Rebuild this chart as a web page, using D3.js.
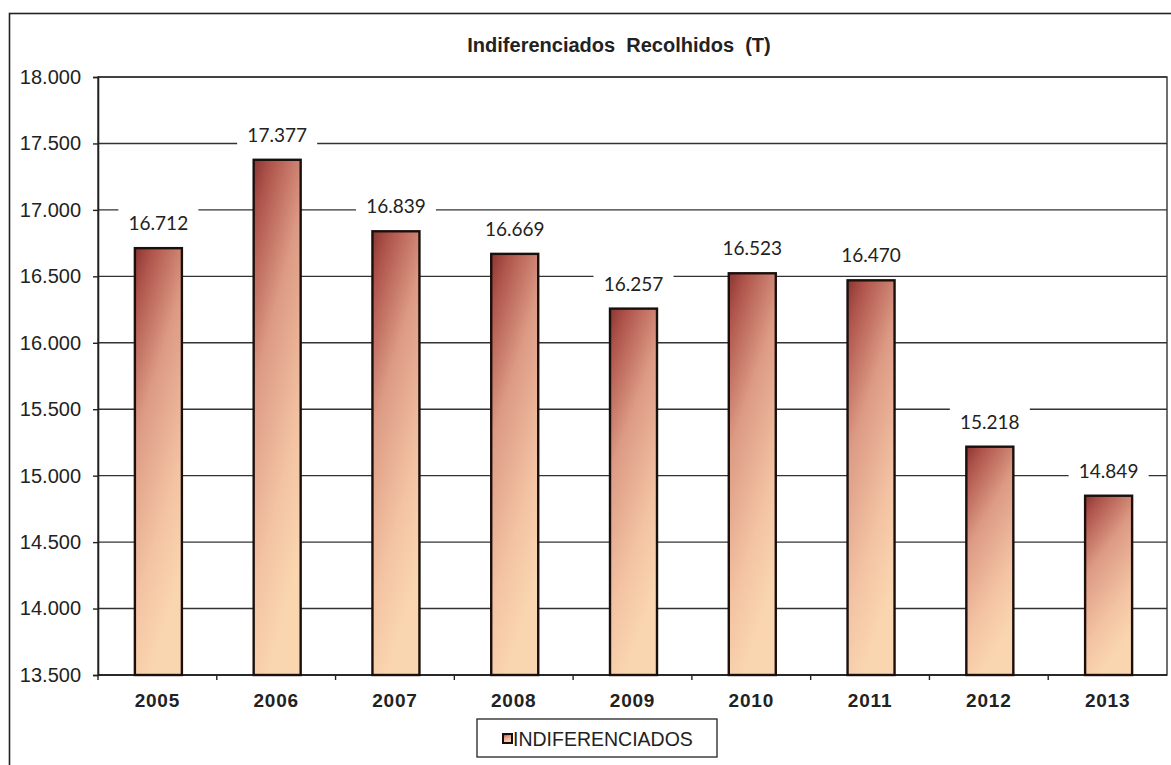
<!DOCTYPE html>
<html>
<head>
<meta charset="utf-8">
<script src="https://cdn.jsdelivr.net/npm/d3@7"></script>
<style>
  html, body { margin: 0; padding: 0; background: #fff; }
  svg { display: block; }
</style>
</head>
<body>
<svg id="chart" width="1171" height="765"></svg>
<script>
const categories = ["2005", "2006", "2007", "2008", "2009", "2010", "2011", "2012", "2013"];
const values = [16712, 17377, 16839, 16669, 16257, 16523, 16470, 15218, 14849];
const yTicks = [13500, 14000, 14500, 15000, 15500, 16000, 16500, 17000, 17500, 18000];
const seriesName = "INDIFERENCIADOS";
const title = "Indiferenciados  Recolhidos  (T)";

const svg = d3.select("#chart");
const fmt = v => d3.format(",")(v).replace(/,/g, ".");
const fmt3 = v => d3.format(",.0f")(v).replace(/,/g, ".");

const plot = { left: 98, right: 1167, top: 77, bottom: 675 };

const defs = svg.append("defs");
const grad = defs.append("linearGradient").attr("id", "barGrad")
  .attr("x1", 0).attr("y1", 0).attr("x2", 0.35).attr("y2", 1);
grad.append("stop").attr("offset", "0%").attr("stop-color", "#8a3632");
grad.append("stop").attr("offset", "12%").attr("stop-color", "#b0554c");
grad.append("stop").attr("offset", "40%").attr("stop-color", "#dc9a84");
grad.append("stop").attr("offset", "75%").attr("stop-color", "#f3c3a3");
grad.append("stop").attr("offset", "100%").attr("stop-color", "#fad6b0");

// outer chart border
svg.append("rect").attr("x", 9.5).attr("y", 13.5).attr("width", 1200).attr("height", 800)
  .attr("fill", "#fff").attr("stroke", "#222").attr("stroke-width", 1.6);

const xb = d3.scaleBand().domain(categories).range([plot.left, plot.right]);
const y = d3.scaleLinear().domain([13500, 18000]).range([plot.bottom, plot.top]);

// plot area border
svg.append("rect").attr("x", plot.left).attr("y", plot.top)
  .attr("width", plot.right - plot.left).attr("height", plot.bottom - plot.top)
  .attr("fill", "none").attr("stroke", "#333").attr("stroke-width", 1.4);

// gridlines
svg.append("g").selectAll("line").data(yTicks).join("line")
  .attr("x1", plot.left).attr("x2", plot.right)
  .attr("y1", d => y(d)).attr("y2", d => y(d))
  .attr("stroke", "#333").attr("stroke-width", 1.4);

// y axis
const yAxis = d3.axisLeft(y).tickValues(yTicks).tickFormat(fmt3).tickSize(5).tickPadding(12);
const gy = svg.append("g").attr("transform", `translate(${plot.left},0)`).call(yAxis);
gy.select(".domain").attr("stroke", "#222").attr("stroke-width", 1.6);
gy.selectAll(".tick line").attr("stroke", "#222").attr("stroke-width", 1.4);
gy.selectAll(".tick text").attr("font-family", "Liberation Sans, Arial, sans-serif")
  .attr("font-size", 20).attr("fill", "#222");

// x axis: ticks between categories
const gx = svg.append("g").attr("transform", `translate(0,${plot.bottom})`);
gx.append("line").attr("x1", plot.left).attr("x2", plot.right).attr("y1", 0).attr("y2", 0)
  .attr("stroke", "#222").attr("stroke-width", 1.6);
gx.selectAll("line.tk").data(categories).join("line").attr("class", "tk")
  .attr("x1", d => xb(d)).attr("x2", d => xb(d)).attr("y1", 0).attr("y2", 5)
  .attr("stroke", "#222").attr("stroke-width", 1.4);
gx.selectAll("text").data(categories).join("text")
  .attr("x", d => xb(d) + xb.bandwidth() / 2).attr("y", 32)
  .attr("text-anchor", "middle")
  .attr("font-family", "Liberation Sans, Arial, sans-serif").attr("font-weight", "bold")
  .attr("font-size", 19).attr("letter-spacing", 0.8).attr("fill", "#222")
  .text(d => d);

// bars
const bw = 47;
svg.append("g").selectAll("rect").data(values).join("rect")
  .attr("x", (d, i) => xb(categories[i]) + xb.bandwidth() / 2 - bw / 2 + 1)
  .attr("y", d => y(d))
  .attr("width", bw)
  .attr("height", d => y(13500) - y(d))
  .attr("fill", "url(#barGrad)")
  .attr("stroke", "#1a0f0c").attr("stroke-width", 2.4);

// data labels with white background
const lg = svg.append("g");
values.forEach((v, i) => {
  const cx = xb(categories[i]) + xb.bandwidth() / 2 + 1;
  const cy = y(v) - 25;
  lg.append("rect").attr("x", cx - 40).attr("y", cy - 15).attr("width", 80).attr("height", 30)
    .attr("fill", "#fff");
  lg.append("text").attr("x", cx).attr("y", cy + 7).attr("text-anchor", "middle")
    .attr("font-family", "Lato, 'Open Sans', sans-serif").attr("font-size", 19)
    .attr("fill", "#222").text(fmt(v));
});

// title
svg.append("text").attr("x", 619).attr("y", 52).attr("text-anchor", "middle")
  .attr("font-family", "Liberation Sans, Arial, sans-serif").attr("font-weight", "bold")
  .attr("font-size", 20).attr("fill", "#222").style("white-space", "pre").attr("xml:space", "preserve")
  .text(title);

// legend
const leg = svg.append("g").attr("transform", "translate(477,719)");
leg.append("rect").attr("x", 0).attr("y", 0).attr("width", 240).attr("height", 38)
  .attr("fill", "#fff").attr("stroke", "#333").attr("stroke-width", 1.4);
leg.append("rect").attr("x", 26).attr("y", 15).attr("width", 9).attr("height", 9)
  .attr("fill", "url(#barGrad)").attr("stroke", "#1a0f0c").attr("stroke-width", 2);
leg.append("text").attr("x", 36).attr("y", 26.5)
  .attr("font-family", "Liberation Sans, Arial, sans-serif").attr("font-size", 19.5)
  .attr("fill", "#222").text(seriesName);
</script>
</body>
</html>
